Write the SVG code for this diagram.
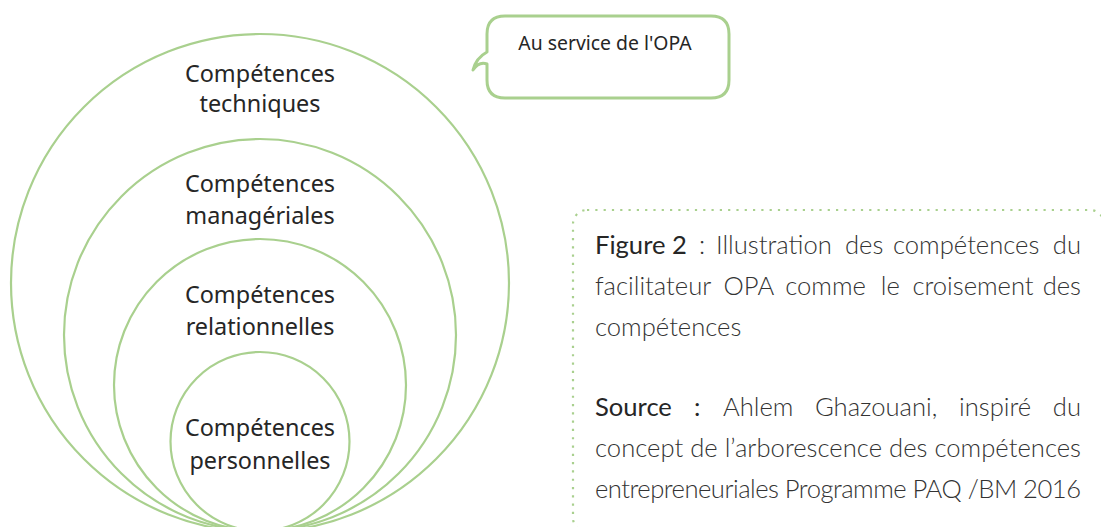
<svg xmlns="http://www.w3.org/2000/svg" width="1101" height="527" viewBox="0 0 1101 527">
  <style>
    .ring { fill: none; stroke: #a9d08e; stroke-width: 2.2; }
    .lbl { font-family: "Noto Sans", "Open Sans", sans-serif; font-size: 23.4px; fill: #262626; text-anchor: middle; }
    .bubble { fill: #ffffff; stroke: #a9d08e; stroke-width: 3; stroke-linejoin: round; }
    .btxt { font-family: "Noto Sans", "Open Sans", sans-serif; font-size: 19.4px; fill: #262626; text-anchor: middle; }
    .frame { fill: none; stroke: #a9d08e; stroke-width: 2.2; stroke-dasharray: 2.2 6.1; }
    .cap { font-family: "Lato", "Noto Sans", sans-serif; font-size: 25.6px; font-weight: 300; fill: #333333; }
    .end { text-anchor: end; }
    .capb { font-weight: 400; fill: #262626; }
  </style>

  <!-- nested competence circles, tangent at the bottom -->
  <g id="techniques">
    <circle class="ring" cx="260" cy="283" r="249"/>
    <text class="lbl" x="260" y="82">Compétences</text>
    <text class="lbl" x="260" y="112">techniques</text>
  </g>
  <g id="manageriales">
    <circle class="ring" cx="260" cy="335" r="196"/>
    <text class="lbl" x="260" y="192">Compétences</text>
    <text class="lbl" x="260" y="224">managériales</text>
  </g>
  <g id="relationnelles">
    <circle class="ring" cx="260" cy="385" r="146"/>
    <text class="lbl" x="260" y="303">Compétences</text>
    <text class="lbl" x="260" y="335">relationnelles</text>
  </g>
  <g id="personnelles">
    <circle class="ring" cx="260" cy="441.5" r="89.5"/>
    <text class="lbl" x="260" y="436">Compétences</text>
    <text class="lbl" x="260" y="469">personnelles</text>
  </g>

  <!-- speech bubble -->
  <g id="bubble">
    <path class="bubble" d="M505 16 H711 Q729 16 729 34 V80 Q729 98 711 98 H505 Q487 98 487 80 V64 Q479 61 473 70 Q476 58 487 52 V34 Q487 16 505 16 Z"/>
    <text class="btxt" x="605" y="50">Au service de l'OPA</text>
  </g>

  <!-- caption with dotted frame; justified lines set word by word -->
  <g id="caption">
    <rect class="frame" x="573" y="210" width="531" height="322" rx="14"/>
    <text class="cap" y="254"><tspan class="capb" x="595">Figure 2</tspan><tspan x="699">:</tspan><tspan x="716">Illustration</tspan><tspan x="845">des</tspan><tspan x="893">compétences</tspan></text>
    <text class="cap end" x="1081" y="254">du</text>
    <text class="cap" y="295"><tspan x="595">facilitateur</tspan><tspan x="723.6">OPA</tspan><tspan x="785.2">comme</tspan><tspan x="880.8">le</tspan><tspan x="912.4">croisement</tspan></text>
    <text class="cap end" x="1081" y="295">des</text>
    <text class="cap" x="595" y="336">compétences</text>
    <text class="cap" y="416"><tspan class="capb" x="595">Source</tspan><tspan class="capb" x="694">:</tspan><tspan x="723">Ahlem</tspan><tspan x="815">Ghazouani,</tspan><tspan x="959">inspiré</tspan></text>
    <text class="cap end" x="1081" y="416">du</text>
    <text class="cap" x="595" y="457" textLength="486" lengthAdjust="spacing">concept de l’arborescence des compétences</text>
    <text class="cap" x="595" y="498" textLength="486" lengthAdjust="spacing">entrepreneuriales Programme PAQ /BM 2016</text>
  </g>
</svg>
